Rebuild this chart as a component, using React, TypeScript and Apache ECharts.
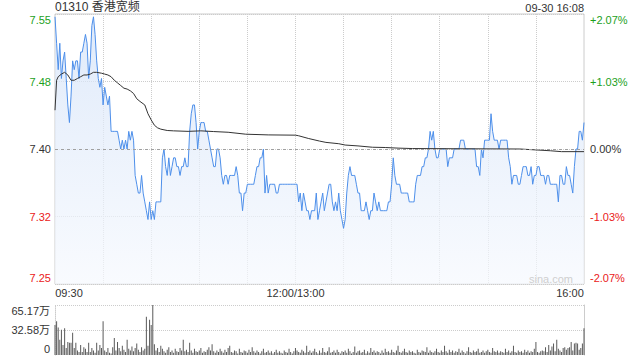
import React, { useEffect, useRef } from "react";
import * as echarts from "echarts";

const TITLE = "01310 香港宽频";
const STAMP = "09-30 16:08";
const WATERMARK = "sina.com";
const PREV_CLOSE = 7.4;
const PCT_RANGE = 2.07;
const PCT_STEP = PCT_RANGE / 2;
const PRICE_TICKS = ["7.25", "7.32", "7.40", "7.48", "7.55"];
const PCT_TICKS = ["-2.07%", "-1.03%", "0.00%", "+1.03%", "+2.07%"];
const VOL_MAX = 65.17;
const VOL_TICKS = ["0", "32.58万", "65.17万"];
const TIME_TICKS = ["09:30", "12:00/13:00", "16:00"];

// 09:30 - 11:21
const priceSeg1 = [
  7.55, 7.52, 7.49, 7.52, 7.48, 7.5, 7.51, 7.48, 7.45, 7.43,
  7.46, 7.5, 7.49, 7.5, 7.5, 7.48, 7.51, 7.51, 7.52, 7.53,
  7.52, 7.48, 7.5, 7.54, 7.55, 7.53, 7.5, 7.48, 7.47, 7.48,
  7.45, 7.47, 7.46, 7.45, 7.46, 7.42, 7.42, 7.42, 7.42, 7.42, 7.41,
  7.4, 7.41, 7.4, 7.41, 7.4, 7.42, 7.41, 7.42, 7.41, 7.37,
  7.36, 7.35, 7.35, 7.37, 7.35, 7.34, 7.33, 7.32, 7.34, 7.32,
  7.33, 7.32, 7.34, 7.34, 7.34, 7.34, 7.39, 7.4, 7.38, 7.37, 7.39,
  7.37, 7.38, 7.39, 7.39, 7.38, 7.38, 7.37, 7.38, 7.38, 7.39,
  7.38, 7.38, 7.42, 7.44, 7.45, 7.45, 7.43, 7.4, 7.42, 7.43,
  7.43, 7.43, 7.42, 7.42, 7.41, 7.4, 7.39, 7.38, 7.38, 7.4, 7.4,
  7.39, 7.37, 7.36, 7.37, 7.37, 7.36, 7.37, 7.37, 7.37,
];
// 11:22 - 14:12
const priceSeg2 = [
  7.37, 7.38, 7.37, 7.35, 7.35, 7.33, 7.35, 7.35, 7.36, 7.36,
  7.36, 7.36, 7.36, 7.37, 7.38, 7.38, 7.39, 7.39, 7.4, 7.35,
  7.37, 7.35, 7.36, 7.36, 7.36, 7.36, 7.35, 7.35, 7.36, 7.36,
  7.36, 7.36, 7.36, 7.36, 7.36, 7.36, 7.36, 7.36, 7.36, 7.36, 7.34, 7.35,
  7.33, 7.35, 7.34, 7.33, 7.33, 7.32, 7.33, 7.33, 7.33, 7.35,
  7.32, 7.33, 7.34, 7.35, 7.33, 7.34, 7.35, 7.36, 7.36, 7.34,
  7.33, 7.34, 7.33, 7.35, 7.33, 7.32, 7.31, 7.32, 7.35, 7.37,
  7.38, 7.37, 7.37, 7.37, 7.36, 7.35, 7.35, 7.33, 7.33, 7.33,
  7.34, 7.33, 7.32, 7.33, 7.33, 7.35, 7.34, 7.33, 7.34, 7.33,
  7.33, 7.33, 7.33, 7.33, 7.34, 7.34, 7.36, 7.39, 7.37, 7.36, 7.36,
  7.36, 7.35, 7.35, 7.35, 7.35, 7.35, 7.34, 7.34,
];
// 14:13 - 16:00
const priceSeg3 = [
  7.34, 7.34, 7.36, 7.37, 7.37, 7.37, 7.38, 7.38, 7.39, 7.39,
  7.4, 7.42, 7.41, 7.42, 7.4, 7.39, 7.39, 7.4, 7.4, 7.4, 7.4,
  7.4, 7.38, 7.39, 7.39, 7.39, 7.4, 7.4, 7.4, 7.4, 7.41,
  7.41, 7.41, 7.4, 7.4, 7.4, 7.4, 7.4, 7.4, 7.4, 7.38, 7.38,
  7.37, 7.4, 7.39, 7.41, 7.41, 7.41, 7.41, 7.44, 7.42, 7.41,
  7.41, 7.41, 7.4, 7.41, 7.41, 7.41, 7.41, 7.41, 7.39, 7.38, 7.36,
  7.37, 7.37, 7.37, 7.36, 7.36, 7.37, 7.38, 7.38, 7.38, 7.37,
  7.37, 7.38, 7.36, 7.37, 7.37, 7.38, 7.38, 7.37, 7.37, 7.37, 7.36,
  7.37, 7.37, 7.36, 7.36, 7.36, 7.36, 7.36, 7.34, 7.37, 7.37, 7.36,
  7.36, 7.38, 7.37, 7.37, 7.36, 7.35, 7.38, 7.4, 7.4, 7.42,
  7.42, 7.41, 7.43,
];

// average price, [time, price]
const avgPoints: [string, number][] = [
  ["09:30", 7.444], ["09:31", 7.478], ["09:32", 7.482], ["09:34", 7.485],
  ["09:36", 7.487], ["09:38", 7.484], ["09:40", 7.478], ["09:42", 7.478],
  ["09:44", 7.48], ["09:46", 7.482], ["09:48", 7.484], ["09:50", 7.484],
  ["09:52", 7.485], ["09:54", 7.487], ["09:56", 7.487], ["09:59", 7.486],
  ["10:01", 7.485], ["10:03", 7.484], ["10:05", 7.482], ["10:07", 7.478],
  ["10:09", 7.475], ["10:11", 7.472], ["10:13", 7.469], ["10:15", 7.468],
  ["10:17", 7.466], ["10:19", 7.463], ["10:21", 7.457], ["10:23", 7.454],
  ["10:26", 7.45], ["10:28", 7.44], ["10:30", 7.433], ["10:32", 7.427],
  ["10:34", 7.424], ["10:36", 7.4225], ["10:40", 7.421], ["10:44", 7.4206],
  ["10:53", 7.42], ["11:01", 7.4206], ["11:09", 7.4198], ["11:18", 7.419],
  ["11:29", 7.4168], ["11:43", 7.416], ["12:00", 7.4157], ["13:02", 7.415],
  ["13:08", 7.412], ["13:15", 7.409], ["13:19", 7.4075], ["13:27", 7.406],
  ["13:31", 7.4045], ["13:39", 7.4035], ["13:48", 7.402], ["13:56", 7.4017],
  ["14:04", 7.401], ["14:13", 7.4005], ["15:20", 7.4], ["15:39", 7.398],
  ["15:46", 7.397], ["16:00", 7.397],
];

// volume per minute, in 万股
const volume = [
  39, 44, 36, 20, 33, 13, 35, 9, 17, 16,
  16, 29, 9, 16, 6, 4, 13, 4, 10, 8,
  4, 16, 4, 9, 6, 3, 16, 6, 13, 9,
  44, 6, 4, 9, 3, 2, 10, 22, 6, 17,
  9, 5, 12, 7, 4, 20, 8, 6, 11, 5,
  9, 15, 7, 4, 10, 6, 8, 50, 12, 46,
  39, 65.17, 14, 6, 9, 4, 12, 8, 5, 3,
  7, 10, 4, 6, 3, 8, 5, 4, 9, 6,
  20, 5, 7, 4, 16, 6, 3, 8, 5, 4,
  6, 9, 3, 5, 4, 7, 10, 6, 14, 5,
  3, 6, 4, 8, 5, 3, 7, 4, 9, 12,
  4, 3, 6, 5, 2, 8, 4, 3, 6, 5,
  3, 7, 4, 10, 5, 3, 6, 4, 2, 5,
  8, 3, 4, 6, 3, 5, 2, 4, 7, 3,
  5, 3, 2, 6, 4, 3, 8, 4, 2, 5,
  9, 6, 4, 3, 7, 5, 3, 12, 4, 6,
  3, 5, 8, 4, 2, 6, 3, 9, 4, 3,
  5, 10, 3, 4, 6, 3, 7, 4, 2, 5,
  4, 6, 3, 8, 5, 2, 4, 11, 3, 5,
  6, 3, 4, 7, 2, 5, 3, 9, 4, 6,
  3, 5, 4, 2, 6, 3, 8, 4, 5, 3,
  7, 4, 3, 6, 12, 4, 3, 5, 8, 4,
  3, 6, 4, 5, 3, 2, 7, 4, 3, 6,
  5, 4, 10, 3, 6, 4, 3, 5, 8, 4,
  3, 6, 4, 12, 5, 3, 7, 4, 6, 3,
  5, 4, 8, 3, 6, 4, 2, 5, 10, 4,
  3, 6, 4, 5, 8, 3, 4, 6, 3, 5,
  7, 4, 3, 9, 5, 4, 6, 3, 5, 4,
  3, 8, 4, 6, 3, 5, 12, 4, 3, 6,
  4, 5, 3, 7, 4, 6, 3, 5, 4, 8,
  17, 4, 3, 5, 6, 5, 10, 4, 13, 6,
  11, 15, 5, 20, 8, 6, 4, 9, 10, 7,
  9, 10, 17, 6, 15, 16, 15, 7, 9, 15,
  35,
];

function buildTimes(): string[] {
  const out: string[] = [];
  const fmt = (m: number) =>
    String(Math.floor(m / 60)).padStart(2, "0") + ":" + String(m % 60).padStart(2, "0");
  for (let m = 9 * 60 + 30; m <= 12 * 60; m++) out.push(fmt(m));
  for (let m = 13 * 60 + 1; m <= 16 * 60; m++) out.push(fmt(m));
  return out;
}

const FONT = '"Liberation Sans", Arial, "Noto Sans CJK SC", sans-serif';
const GREEN = "#1c9f1c";
const RED = "#ea2020";
const DARK = "#333333";
const GRID_LINE = "#cccccc";

const toPct = (p: number) => (p / PREV_CLOSE - 1) * 100;

function rs(color: string, padding: number[]) {
  return { color, fontSize: 11, fontFamily: FONT, padding };
}

export default function App() {
  const ref = useRef<HTMLDivElement>(null);

  useEffect(() => {
    if (!ref.current) return;
    const chart = echarts.init(ref.current, null, { renderer: "svg" });
    const times = buildTimes();
    const prices = [...priceSeg1, ...priceSeg2, ...priceSeg3];
    const lastIdx = times.length - 1;
    const midIdx = times.indexOf("12:00");

    const priceRich = {
      t: rs(GREEN, [12, 0, 0, 0]),
      g: rs(GREEN, [0, 0, 0, 0]),
      n: rs(DARK, [0, 0, 0, 0]),
      r: rs(RED, [0, 0, 0, 0]),
      b: rs(RED, [0, 0, 12, 0]),
    };
    const keyFor = (i: number) => (i === 4 ? "t" : i === 3 ? "g" : i === 2 ? "n" : i === 1 ? "r" : "b");
    const tickIndex = (v: number) => Math.round((v + PCT_RANGE) / PCT_STEP);

    const option: any = {
      animation: false,
      backgroundColor: "#ffffff",
      grid: [
        { left: 55, top: 14, width: 529, height: 270, show: true, borderColor: GRID_LINE, borderWidth: 1 },
        { left: 55, top: 305, width: 529, height: 50, show: false },
      ],
      xAxis: [
        {
          type: "category",
          gridIndex: 0,
          data: times,
          boundaryGap: false,
          axisLine: { show: false },
          axisTick: { show: false },
          axisLabel: {
            show: true,
            margin: 3,
            interval: (i: number) => i === 0 || i === midIdx || i === lastIdx,
            showMinLabel: true,
            showMaxLabel: true,
            formatter: (_v: string, i: number) =>
              i === 0 ? `{l|${TIME_TICKS[0]}}` : i === lastIdx ? `{r|${TIME_TICKS[2]}}` : `{c|${TIME_TICKS[1]}}`,
            rich: {
              l: rs(DARK, [0, 0, 0, 28]),
              c: rs(DARK, [0, 0, 0, 0]),
              r: rs(DARK, [0, 28, 0, 0]),
            },
          },
          splitLine: {
            show: true,
            interval: (i: number) => i % 30 === 0 && i > 0 && i < lastIdx,
            lineStyle: { color: GRID_LINE, type: "dotted", width: 1 },
          },
        },
        {
          type: "category",
          gridIndex: 1,
          data: times,
          boundaryGap: false,
          axisLine: { show: false },
          axisTick: { show: false },
          axisLabel: { show: false },
          splitLine: { show: false },
        },
      ],
      yAxis: [
        {
          type: "value",
          gridIndex: 0,
          position: "left",
          min: -PCT_RANGE,
          max: PCT_RANGE,
          interval: PCT_STEP,
          axisLine: { show: false },
          axisTick: { show: false },
          splitLine: { show: true, lineStyle: { color: GRID_LINE, type: "dotted", width: 1 } },
          axisLabel: {
            margin: 4,
            formatter: (v: number) => {
              const i = tickIndex(v);
              return `{${keyFor(i)}|${PRICE_TICKS[i]}}`;
            },
            rich: priceRich,
          },
        },
        {
          type: "value",
          gridIndex: 0,
          position: "right",
          min: -PCT_RANGE,
          max: PCT_RANGE,
          interval: PCT_STEP,
          axisLine: { show: false },
          axisTick: { show: false },
          splitLine: { show: false },
          axisLabel: {
            margin: 6,
            formatter: (v: number) => {
              const i = tickIndex(v);
              return `{${keyFor(i)}|${PCT_TICKS[i]}}`;
            },
            rich: priceRich,
          },
        },
        {
          type: "value",
          gridIndex: 1,
          position: "left",
          min: 0,
          max: VOL_MAX,
          interval: VOL_MAX / 2,
          axisLine: { show: true, lineStyle: { color: GRID_LINE, type: "dotted", width: 1 } },
          axisTick: { show: false },
          splitLine: {
            show: true,
            lineStyle: { color: ["rgba(0,0,0,0)", GRID_LINE, GRID_LINE], type: "dotted", width: 1 },
          },
          axisLabel: {
            margin: 5,
            formatter: (v: number) => {
              const i = Math.round(v / (VOL_MAX / 2));
              const key = i === 2 ? "t" : i === 1 ? "m" : "b";
              return `{${key}|${VOL_TICKS[i]}}`;
            },
            rich: {
              t: rs(DARK, [12, 0, 0, 0]),
              m: rs(DARK, [0, 0, 0, 0]),
              b: rs(DARK, [0, 0, 12, 0]),
            },
          },
        },
        {
          type: "value",
          gridIndex: 1,
          position: "right",
          min: 0,
          max: VOL_MAX,
          axisLine: { show: true, lineStyle: { color: GRID_LINE, width: 1 } },
          axisTick: { show: false },
          axisLabel: { show: false },
          splitLine: { show: false },
        },
      ],
      series: [
        {
          type: "line",
          name: "price",
          xAxisIndex: 0,
          yAxisIndex: 0,
          data: prices.map(toPct),
          symbol: "none",
          lineStyle: { color: "#4d8fea", width: 1 },
          areaStyle: {
            origin: "start",
            color: new echarts.graphic.LinearGradient(0, 0, 0, 1, [
              { offset: 0, color: "#d3e2f8" },
              { offset: 1, color: "#f6f9fe" },
            ]),
          },
          markLine: {
            silent: true,
            symbol: "none",
            label: { show: false },
            lineStyle: { color: "#a0a0a0", type: [3, 3], width: 1 },
            data: [{ yAxis: 0 }],
          },
          z: 3,
        },
        {
          type: "line",
          name: "avg",
          xAxisIndex: 0,
          yAxisIndex: 0,
          data: avgPoints.map(([t, p]) => [t, toPct(p)]),
          symbol: "none",
          lineStyle: { color: "#333333", width: 1 },
          z: 4,
        },
        {
          type: "bar",
          name: "volume",
          xAxisIndex: 1,
          yAxisIndex: 2,
          data: volume,
          barWidth: 1,
          itemStyle: { color: "#5a5a5a" },
        },
      ],
      graphic: [
        {
          type: "text",
          left: 55,
          top: 1,
          style: { text: TITLE, fill: DARK, font: `12px ${FONT}` },
        },
        {
          type: "text",
          right: 56,
          top: 2,
          style: { text: STAMP, fill: DARK, font: `11px ${FONT}` },
        },
        {
          type: "text",
          right: 67,
          top: 273,
          style: { text: WATERMARK, fill: "#cfcfcf", font: `11px ${FONT}` },
          z: 10,
        },
      ],
    };

    chart.setOption(option);
    return () => chart.dispose();
  }, []);

  return (
    <div
      ref={ref}
      style={{ position: "fixed", left: 0, top: 0, width: 640, height: 360, background: "#fff" }}
    />
  );
}
